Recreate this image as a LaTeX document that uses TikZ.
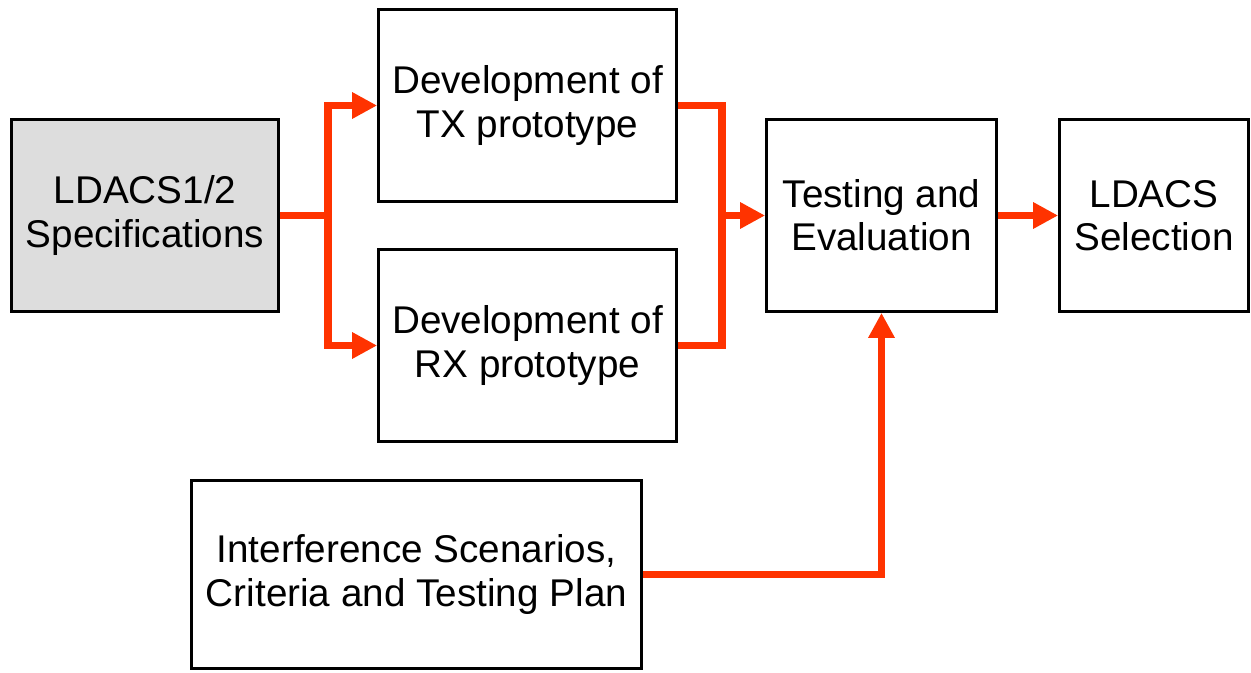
\documentclass[tikz,border=0pt]{standalone}
\usepackage{fontspec}
\setmainfont{Liberation Sans}
\usetikzlibrary{arrows.meta}
\definecolor{flowred}{RGB}{255,51,0}
\definecolor{specgray}{RGB}{221,221,221}

\begin{document}
\begin{tikzpicture}[
  block/.style={draw=black,line width=1.6pt,align=center,inner sep=0pt,
    minimum height=3.84cm,font=\fontsize{22}{24.5}\selectfont},
  flow/.style={draw=flowred,line width=4.4pt},
  flowarrow/.style={flow,-{Triangle[length=0.5cm,width=0.5cm]}}]
  \useasboundingbox (0,0) rectangle (25.02,13.44);
  \node[block,fill=specgray,minimum width=5.34cm] (spec) at (2.90,9.13) {LDACS1/2\\Specifications};
  \node[block,minimum width=5.96cm] (tx) at (10.55,11.33) {Development of\\TX prototype};
  \node[block,minimum width=5.96cm] (rx) at (10.55,6.53) {Development of\\RX prototype};
  \node[block,minimum width=4.60cm] (test) at (17.63,9.13) {Testing and\\Evaluation};
  \node[block,minimum width=3.78cm] (sel) at (23.08,9.13) {LDACS\\Selection};
  \node[block,minimum width=9.00cm,minimum height=3.76cm] (intf) at (8.33,1.95) {Interference Scenarios,\\Criteria and Testing Plan};
  \coordinate (fork) at (6.56,9.13);
  \coordinate (merge) at (14.44,9.13);
  \draw[flow] (spec.east) -- (fork);
  \draw[flowarrow] (fork) |- (tx.west);
  \draw[flowarrow] (fork) |- (rx.west);
  \draw[flow] (tx.east) -| (merge) |- (rx.east);
  \draw[flowarrow] (merge) -- (test.west);
  \draw[flowarrow] (test.east) -- (sel.west);
  \draw[flowarrow] (intf.east) -| (test.south);
\end{tikzpicture}
\end{document}
